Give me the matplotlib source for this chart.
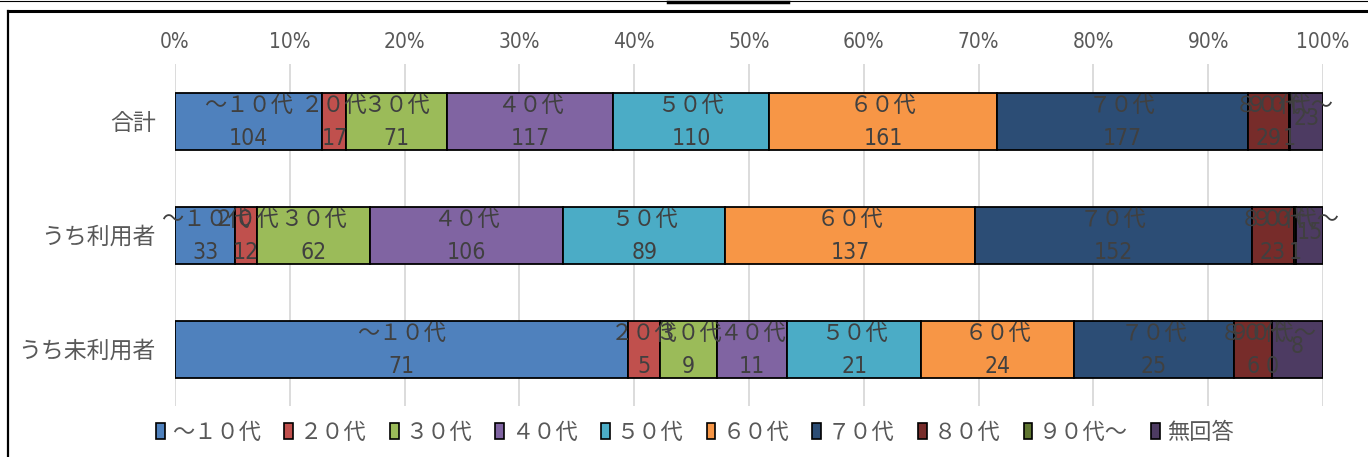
"""Stacked 100% bar chart: age breakdown of users / non-users."""

import matplotlib
matplotlib.use("Agg")
import matplotlib.pyplot as plt
from matplotlib.lines import Line2D

JP = "Noto Sans CJK JP"
plt.rcParams.update({"font.family": [JP, "DejaVu Sans"]})

groups = ["合計", "うち利用者", "うち未利用者"]
ages = ["～１０代", "２０代", "３０代", "４０代", "５０代", "６０代",
        "７０代", "８０代", "９０代～", "無回答"]
counts_total = [104, 17, 71, 117, 110, 161, 177, 29, 1, 23]
counts_users = [33, 12, 62, 106, 89, 137, 152, 23, 1, 15]
counts_nonusers = [71, 5, 9, 11, 21, 24, 25, 6, 0, 8]
colors = ["#4F81BD", "#C0504D", "#9BBB59", "#8064A2", "#4BACC6", "#F79646",
          "#2C4D75", "#772C2A", "#5F7530", "#4D3B62"]
ticks = [f"{p}%" for p in range(0, 101, 10)]

rows = [counts_total, counts_users, counts_nonusers]
TXT = "#404040"
NUM = dict(family="DejaVu Sans", fontstretch="condensed")

fig = plt.figure(figsize=(13.68, 4.57), dpi=100)
ax = fig.add_axes([175 / 1368, 1 - 406 / 457, 1148 / 1368, 342 / 457])

for gi, row in enumerate(rows):
    total = sum(row)
    left = 0.0
    for ai, v in enumerate(row):
        w = v / total * 100
        ax.barh(gi, w, left=left, height=0.5, color=colors[ai],
                edgecolor="black", linewidth=1.3, zorder=3)
        cx = left + w / 2
        if ai == len(row) - 1:
            # the "no answer" segment shows only its value, mid-height
            ax.text(cx, gi - 0.02, str(v), ha="center", va="center",
                    fontsize=16.5, color=TXT, zorder=5, **NUM)
        else:
            ax.text(cx, gi - 0.14, ages[ai], ha="center", va="center",
                    fontsize=16, color=TXT, zorder=5)
            ax.text(cx, gi + 0.15, str(v), ha="center", va="center",
                    fontsize=16.5, color=TXT, zorder=5, **NUM)
        left += w

ax.set_xlim(0, 100)
ax.set_ylim(2.5, -0.5)
ax.set_yticks(range(len(groups)))
ax.set_yticklabels(groups, fontsize=16.5, color="#595959")
ax.set_xticks(range(0, 101, 10))
ax.set_xticklabels(ticks, fontsize=15, color="#595959", **NUM)
ax.xaxis.tick_top()
ax.tick_params(axis="x", length=0, pad=9)
ax.tick_params(axis="y", length=0, pad=14)
ax.grid(axis="x", color="#d9d9d9", linewidth=1.3, zorder=0)
for s in ax.spines.values():
    s.set_visible(False)

handles = [plt.Rectangle((0, 0), 1, 1, facecolor=c, edgecolor="black", linewidth=1.2)
           for c in colors]
fig.legend(handles, ages, loc="center", bbox_to_anchor=(0.508, 0.054), ncol=10,
           frameon=False, fontsize=16, handlelength=0.4, handleheight=0.75,
           handletextpad=0.3, columnspacing=1.05, labelcolor="#595959")

# outer frame lines
fig.add_artist(Line2D([0, 1], [1 - 1 / 457, 1 - 1 / 457], color="black", linewidth=0.8))
fig.add_artist(Line2D([668 / 1368, 788 / 1368], [1 - 1.5 / 457, 1 - 1.5 / 457],
                      color="black", linewidth=2.5))
fig.add_artist(Line2D([8 / 1368, 1], [1 - 11 / 457, 1 - 11 / 457], color="black", linewidth=2.2))
fig.add_artist(Line2D([8 / 1368, 8 / 1368], [0, 1 - 11 / 457], color="black", linewidth=1.6))

fig.savefig("out.png", dpi=100)
